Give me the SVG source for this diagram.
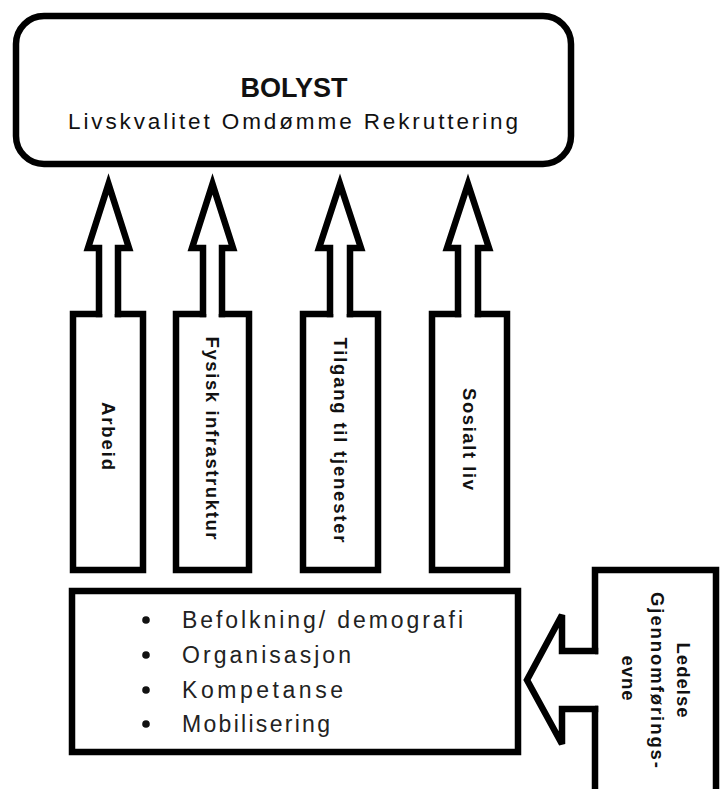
<svg xmlns="http://www.w3.org/2000/svg" width="720" height="789" viewBox="0 0 720 789">
<style>
.ln{fill:#fff;stroke:#000;stroke-width:6.5;stroke-linejoin:miter;stroke-linecap:square}
.t{font-family:"Liberation Sans",Arial,sans-serif;fill:#111}
.v{font-size:18.5px;font-weight:bold;text-anchor:middle;dominant-baseline:central}
.b{font-size:23px;fill:#222}
</style>
<rect width="720" height="789" fill="#fff"/>
<g id="bolyst">
<rect class="ln" x="16" y="16" width="555" height="148" rx="28" ry="28" stroke-width="7"/>
<text class="t" x="294" y="97" font-size="27" font-weight="bold" text-anchor="middle">BOLYST</text>
<text class="t" x="68" y="129" font-size="22.5" fill="#222" textLength="450" lengthAdjust="spacing">Livskvalitet Omdømme Rekruttering</text>
</g>
<g id="arbeid">
<path class="ln" d="M99,314 H73 V570 H143 V314 H118"/>
<text class="t v" transform="translate(108,436) rotate(90)" textLength="68" lengthAdjust="spacing">Arbeid</text>
</g>
<g id="infrastruktur">
<path class="ln" d="M203,314 H176 V570 H249 V314 H222"/>
<text class="t v" transform="translate(212.5,438) rotate(90)" textLength="203" lengthAdjust="spacing">Fysisk infrastruktur</text>
</g>
<g id="tjenester">
<path class="ln" d="M330,314 H303 V570 H378 V314 H350"/>
<text class="t v" transform="translate(340.5,440) rotate(90)" textLength="205" lengthAdjust="spacing">Tilgang til tjenester</text>
</g>
<g id="sosialt">
<path class="ln" d="M458,314 H432 V570 H507 V314 H478"/>
<text class="t v" transform="translate(469.5,439) rotate(90)" textLength="102" lengthAdjust="spacing">Sosialt liv</text>
</g>
<g id="grunnlag">
<rect class="ln" x="72" y="591" width="446" height="161" stroke-width="7"/>
<circle cx="146" cy="620" r="3.8" fill="#111"/>
<circle cx="146" cy="655" r="3.8" fill="#111"/>
<circle cx="146" cy="690" r="3.8" fill="#111"/>
<circle cx="146" cy="724" r="3.8" fill="#111"/>
<text class="t b" x="182" y="628" textLength="281" lengthAdjust="spacing">Befolkning/ demografi</text>
<text class="t b" x="182" y="663" textLength="169" lengthAdjust="spacing">Organisasjon</text>
<text class="t b" x="182" y="698" textLength="161" lengthAdjust="spacing">Kompetanse</text>
<text class="t b" x="182" y="732" textLength="148" lengthAdjust="spacing">Mobilisering</text>
</g>
<g id="ledelse">
<path class="ln" d="M595,651 V570 H716 V800 H595 V709"/>
<text class="t v" transform="translate(683,680) rotate(90)" textLength="75" lengthAdjust="spacing">Ledelse</text>
<text class="t v" transform="translate(657,680) rotate(90)" textLength="176" lengthAdjust="spacing">Gjennomførings-</text>
<text class="t v" transform="translate(628,678) rotate(90)" textLength="45" lengthAdjust="spacing">evne</text>
</g>
<g id="connectors">
<path class="ln" d="M99,314 V248 H88 L108.5,184 L129,248 H118 V314"/>
<path class="ln" d="M203,314 V248 H192 L212.5,184 L233,248 H222 V314"/>
<path class="ln" d="M330,314 V248 H319 L340,184 L361,248 H350 V314"/>
<path class="ln" d="M458,314 V248 H447 L468,184 L489,248 H478 V314"/>
<path class="ln" d="M595,651 H562 V615 L527,680 L562,744 V709 H595"/>
</g>
</svg>
